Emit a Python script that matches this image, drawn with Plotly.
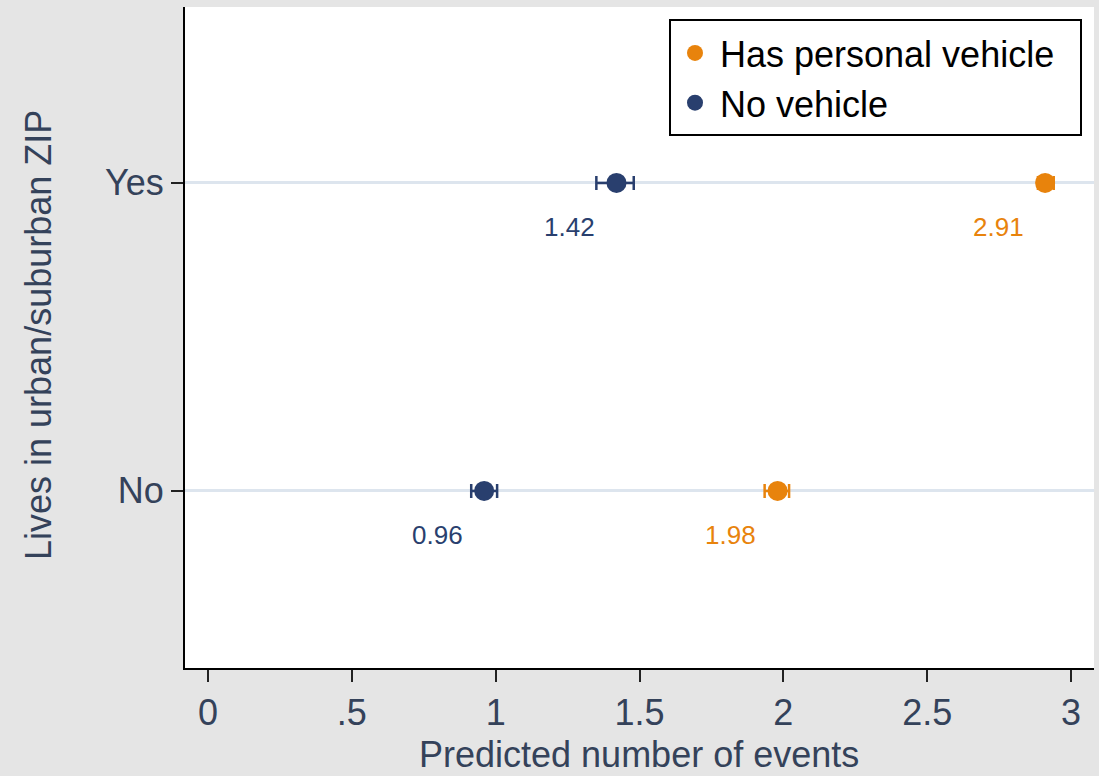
import plotly.graph_objects as go

# Predicted number of events by urban/suburban residence and vehicle ownership
urban = ["No", "Yes"]

vehicle_pred = [1.98, 2.91]
vehicle_lo = [1.935, 2.885]
vehicle_hi = [2.02, 2.94]

novehicle_pred = [0.96, 1.42]
novehicle_lo = [0.915, 1.35]
novehicle_hi = [1.005, 1.48]

x_ticks = [0, 0.5, 1, 1.5, 2, 2.5, 3]
x_ticklabels = ["0", ".5", "1", "1.5", "2", "2.5", "3"]

ORANGE = "#e8830c"
NAVY = "#293f6e"
FONT = "Arial, Liberation Sans, sans-serif"
TXT = "#34425a"

# plot area in pixels
W, H = 1099, 776
ML, MR, MT, MB = 185, 5, 7, 108
PW, PH = W - ML - MR, H - MT - MB


def px_x(x):
    return (x - ML) / PW


def px_y(y):
    return (H - MB - y) / PH


fig = go.Figure()


def add_series(name, pred, lo, hi, color):
    fig.add_trace(go.Scatter(
        x=pred, y=urban, mode="markers", name=name,
        marker=dict(color=color, size=20, line=dict(width=0)),
        error_x=dict(type="data", symmetric=False,
                     array=[h - p for h, p in zip(hi, pred)],
                     arrayminus=[p - l for p, l in zip(pred, lo)],
                     color=color, thickness=2.5, width=7),
    ))
    for p, cat in zip(pred, urban):
        fig.add_annotation(x=p, y=cat, text=f"{p:.2f}", showarrow=False,
                           xshift=-47, yshift=-44,
                           font=dict(family=FONT, size=26, color=color))


add_series("Has personal vehicle", vehicle_pred, vehicle_lo, vehicle_hi, ORANGE)
add_series("No vehicle", novehicle_pred, novehicle_lo, novehicle_hi, NAVY)

# legend frame
fig.add_shape(type="rect", xref="paper", yref="paper",
              x0=px_x(670), x1=px_x(1081), y0=px_y(135), y1=px_y(20),
              line=dict(color="black", width=2), fillcolor="white",
              layer="above")

# axis titles
fig.add_annotation(text="Predicted number of events", xref="paper", yref="paper",
                   x=px_x(639), y=px_y(776), xanchor="center", yanchor="bottom",
                   borderpad=0, showarrow=False,
                   font=dict(family=FONT, size=36, color=TXT))
fig.add_annotation(text="Lives in urban/suburban ZIP", xref="paper", yref="paper",
                   x=px_x(38), y=px_y(335), xanchor="center", yanchor="middle",
                   textangle=-90, showarrow=False,
                   font=dict(family=FONT, size=36, color=TXT))

fig.update_layout(
    width=W, height=H,
    margin=dict(l=ML, r=MR, t=MT, b=MB),
    paper_bgcolor="#e5e5e5", plot_bgcolor="white",
    font=dict(family=FONT, color=TXT),
    showlegend=True,
    legend=dict(x=px_x(670), y=px_y(23), xanchor="left", yanchor="top",
                bgcolor="rgba(0,0,0,0)", borderwidth=0,
                itemwidth=40,
                font=dict(family=FONT, size=36, color="black"),
                tracegroupgap=0),
    xaxis=dict(range=[-0.08, 3.08], tickvals=x_ticks, ticktext=x_ticklabels,
               showgrid=False, zeroline=False, automargin=False,
               showline=True, linecolor="black", linewidth=2,
               ticks="outside", ticklen=12, tickwidth=2, tickcolor="#222",
               tickfont=dict(size=36, color=TXT)),
    yaxis=dict(type="category", categoryorder="array", categoryarray=urban,
               range=[-0.575, 1.571], automargin=False,
               showgrid=True, gridcolor="#dde5ee", gridwidth=3,
               zeroline=False,
               showline=True, linecolor="black", linewidth=2,
               ticks="outside", ticklen=12, tickwidth=2, tickcolor="#222",
               tickfont=dict(size=36, color=TXT)),
)

fig.write_html("out.html")
